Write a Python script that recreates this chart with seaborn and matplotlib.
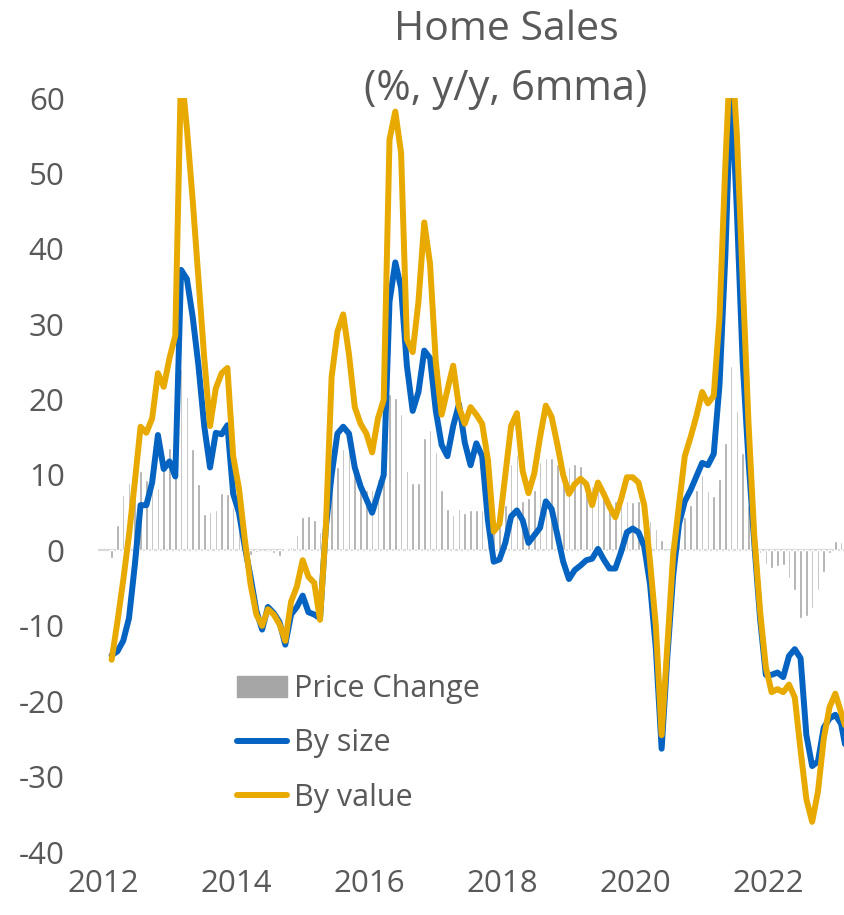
import matplotlib
matplotlib.use("Agg")
import matplotlib.pyplot as plt
import matplotlib.patches as mpatches
from matplotlib.lines import Line2D
import pandas as pd
import seaborn as sns

# monthly data, Mar 2012 .. Oct 2022
months = pd.date_range("2012-03-01", "2022-10-01", freq="MS")

by_value = [
    -14.5, -9.5, -4, 2, 9, 16.4, 15.6, 17.5, 23.5, 21.7,                 # 2012
    25.5, 28.5, 64, 56, 46.5, 36, 25.5, 16.5, 21.5, 23.5, 24.2, 12.5,    # 2013
    8.2, 1.5, -4.5, -8.5, -10, -7.8, -8.5, -9.8, -12, -6.8, -4.8, -1.3,  # 2014
    -3.5, -4.3, -9.2, 3, 23, 29, 31.3, 26, 19, 16.8, 15.5, 13,           # 2015
    17.5, 20, 54.5, 58.2, 52.7, 28, 26.3, 33, 43.5, 38, 25, 18,          # 2016
    21.3, 24.5, 19, 16.8, 19, 18, 16.8, 12, 2.5, 3.5, 10, 16.5,          # 2017
    18.2, 10.5, 7.6, 10.2, 15, 19.2, 17.7, 14, 10, 7.5, 8.8, 9.5,        # 2018
    8.8, 6, 9, 7.5, 5.8, 4.4, 6.8, 9.7, 9.7, 9, 6, -1.5,                 # 2019
    -10, -24.5, -12.5, -0.5, 6, 12.5, 15, 17.8, 21, 19.5, 20.5, 31,      # 2020
    51, 68, 55, 36, 17, 2, -8, -15.5, -18.8, -18.4, -18.8, -17.8,        # 2021
    -19.5, -26.5, -33, -36, -32, -25, -20.8, -19, -21.5, -24,            # 2022
]

by_size = [
    -13.9, -13.4, -12, -9, -2, 6, 6, 9, 15.3, 10.8,                      # 2012
    11.8, 9.8, 37.2, 36, 31, 24.5, 16.5, 11, 15.6, 15.4, 16.6, 7.5,      # 2013
    5, 0.5, -3.5, -8, -10.5, -7.5, -8.3, -9.5, -12.5, -8.5, -7.5, -6,    # 2014
    -8.2, -8.5, -9, 3, 10, 15.5, 16.4, 15.5, 11, 8.5, 6.8, 5,            # 2015
    7.5, 10, 33, 38.2, 34.8, 24.5, 18.5, 21, 26.5, 25.5, 18.5, 14,       # 2016
    12.5, 16.5, 19.4, 14.3, 11.3, 14.2, 12.5, 4, -1.5, -1.2, 1, 4.5,     # 2017
    5.3, 4, 1, 2, 3, 6.5, 5.5, 2, -1.5, -3.8, -2.6, -2,                  # 2018
    -1.3, -1.1, 0.2, -1.2, -2.4, -2.4, -0.2, 2.4, 2.9, 2.4, 0.5, -4.5,   # 2019
    -13, -26.3, -14, -3.3, 3.5, 6.5, 8, 9.8, 11.6, 11.3, 12.8, 22,       # 2020
    39, 62, 45, 25, 12, 1, -9, -16.5, -16.5, -16.2, -16.8, -14,          # 2021
    -13.1, -14.3, -24.5, -28.6, -28, -23.5, -22.3, -21.8, -23, -27,      # 2022
]

price_change = [
    -1, 3.4, 7.3, 8.9, 9.9, 10.5, 9.4, 8.1, 8.3, 10.8,                   # 2012
    13.6, 12.5, 24.1, 20.4, 13.4, 8.8, 4.8, 5.1, 5.4, 7.6, 7.5, 5.8,     # 2013
    3.3, 1, -0.6, -0.2, 0.1, -0.2, -0.3, -0.7, 0.2, 0.4, 2.1, 4.4,       # 2014
    4.6, 4, 2.5, 5, 9, 11, 13.5, 15.5, 10.9, 8.5, 8, 8,                  # 2015
    9.5, 10, 20.8, 20.2, 18.1, 10.5, 9, 9, 14.9, 16, 13.1, 8,            # 2016
    5.5, 4.7, 5.5, 5, 5.3, 5.3, 5.3, 4.8, 3, 4, 6, 11.4,                 # 2017
    12.7, 6.5, 6.9, 8, 11.7, 12.3, 12.3, 11.5, 11, 11, 11.4, 11.2,       # 2018
    9.3, 8.6, 9.1, 7.7, 6.6, 6.6, 6.6, 6.6, 6.4, 6.6, 5.5, 3.9,          # 2019
    2.9, 1.4, 0, 0.8, 2.5, 4.4, 6, 8, 10, 7.9, 7.2, 9.5,                 # 2020
    14.3, 24.4, 18.5, 12.9, 6, 0.5, -0.3, -1.8, -2.3, -2.1, -1.9, -3.6,  # 2021
    -5.3, -9, -8.7, -7.7, -5.3, -2.9, -0.3, 1.3, 1.1, 1.0,               # 2022
]

year_labels = ["2012", "2014", "2016", "2018", "2020", "2022"]

assert len(by_value) == len(by_size) == len(price_change) == len(months)

sns.set_theme(style="white")
plt.rcParams["font.family"] = ["Open Sans", "DejaVu Sans"]
plt.rcParams["axes.unicode_minus"] = False

TXT = "#595959"
BLUE = "#0563c1"
GOLD = "#e8aa00"
BAR = "#a6a6a6"

df = pd.DataFrame({
    "month": months,
    "By size": by_size,
    "By value": by_value,
    "Price Change": price_change,
})
# months since Jan 2012 as x position
df["m"] = (df["month"].dt.year - 2012) * 12 + df["month"].dt.month - 1

W, H = 844, 915
fig = plt.figure(figsize=(W / 100, H / 100), dpi=100)
ax = fig.add_axes([98 / W, 63 / H, 746 / W, 754 / H])

ax.axhline(0, color="#d9d9d9", lw=1.6, zorder=0.5)
ax.bar(df["m"], df["Price Change"], width=0.45, color=BAR, zorder=1)
sns.lineplot(data=df, x="m", y="By size", ax=ax, color=BLUE, lw=4.3, zorder=3)
sns.lineplot(data=df, x="m", y="By value", ax=ax, color=GOLD, lw=4.3, zorder=4)

ax.set_xlim(-0.35, 128.5)
ax.set_ylim(-40, 60)
ax.set_yticks(range(-40, 61, 10))
# the source axis shows a label every 23 points
ax.set_xticks([0.5 + 23 * k for k in range(len(year_labels))])
ax.set_xticklabels(year_labels)
ax.set_xlabel("")
ax.set_ylabel("")
sns.despine(ax=ax, left=True, bottom=True)
ax.tick_params(axis="both", length=0, labelsize=22.5, colors=TXT)
ax.tick_params(axis="y", pad=24)
ax.tick_params(axis="x", pad=12)

fig.text(506 / W, 1 - 30 / H, "Home Sales", ha="center", va="center",
         fontsize=29.5, color=TXT)
fig.text(506 / W, 1 - 89 / H, "(%, y/y, 6mma)", ha="center", va="center",
         fontsize=30, color=TXT)

handles = [
    mpatches.Patch(color=BAR),
    Line2D([], [], color=BLUE, lw=4.3),
    Line2D([], [], color=GOLD, lw=4.3),
]
fig.legend(handles, ["Price Change", "By size", "By value"],
           loc="upper left", bbox_to_anchor=(237 / W, 1 - 674 / H),
           frameon=False, fontsize=22, labelcolor=TXT,
           handlelength=1.65, handletextpad=0.22, labelspacing=0.8,
           borderpad=0, borderaxespad=0)

fig.savefig("out.png", dpi=100)
